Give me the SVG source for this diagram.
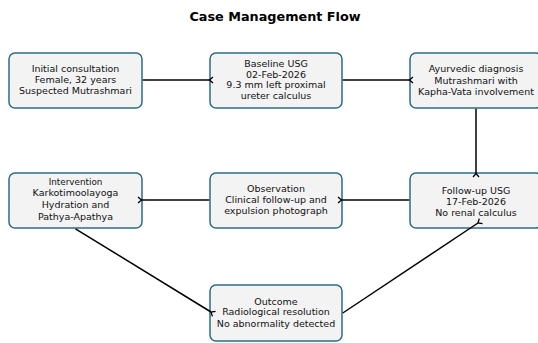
<svg xmlns="http://www.w3.org/2000/svg" width="538" height="343" viewBox="0 0 538 343">
<style>
.box{fill:#f3f3f3;stroke:#2b6e84;stroke-width:1.5}
.t{font-family:"DejaVu Sans",sans-serif;font-size:9.5px;fill:#111;text-anchor:middle}
.title{font-family:"DejaVu Sans",sans-serif;font-size:12.8px;font-weight:bold;fill:#000;text-anchor:middle}
.e{stroke:#000;stroke-width:1.5;fill:none}
</style>
<defs>
<marker id="h" viewBox="-1 -5 7 10" refX="0" refY="0" markerWidth="7" markerHeight="10" markerUnits="userSpaceOnUse" orient="auto" overflow="visible">
<path d="M3.5,-3 L0,0 L3.5,3" fill="none" stroke="#000" stroke-width="1.3"/>
</marker>
</defs>
<rect width="538" height="343" fill="#fff"/>
<text class="title" x="275" y="21">Case Management Flow</text>
<g id="initial">
<rect class="box" x="9" y="53" width="133" height="55" rx="6"/>
<text class="t" x="75.5" y="72">Initial consultation</text>
<text class="t" x="75.5" y="83">Female, 32 years</text>
<text class="t" x="75.5" y="94">Suspected Mutrashmari</text>
</g>
<g id="baseline">
<rect class="box" x="210" y="53" width="132" height="55" rx="6"/>
<text class="t" x="276" y="67">Baseline USG</text>
<text class="t" x="276" y="77.5">02-Feb-2026</text>
<text class="t" x="276" y="88">9.3 mm left proximal</text>
<text class="t" x="276" y="99">ureter calculus</text>
</g>
<g id="ayurvedic">
<rect class="box" x="410" y="53" width="132" height="55" rx="6"/>
<text class="t" x="476" y="72">Ayurvedic diagnosis</text>
<text class="t" x="476" y="83.5">Mutrashmari with</text>
<text class="t" x="476" y="94.5">Kapha-Vata involvement</text>
</g>
<g id="intervention">
<rect class="box" x="9" y="173" width="133" height="55" rx="6"/>
<text class="t" x="75.5" y="185" style="font-size:8.8px">Intervention</text>
<text class="t" x="75.5" y="195.5">Karkotimoolayoga</text>
<text class="t" x="75.5" y="208">Hydration and</text>
<text class="t" x="75.5" y="220">Pathya-Apathya</text>
</g>
<g id="observation">
<rect class="box" x="210" y="173" width="132" height="55" rx="6"/>
<text class="t" x="276" y="191.5">Observation</text>
<text class="t" x="276" y="202.5">Clinical follow-up and</text>
<text class="t" x="276" y="214">expulsion photograph</text>
</g>
<g id="followup">
<rect class="box" x="410" y="173" width="132" height="55" rx="6"/>
<text class="t" x="476" y="193.5">Follow-up USG</text>
<text class="t" x="476" y="204.5">17-Feb-2026</text>
<text class="t" x="476" y="215.5">No renal calculus</text>
</g>
<g id="outcome">
<rect class="box" x="210" y="285" width="132" height="56" rx="6"/>
<text class="t" x="276" y="305">Outcome</text>
<text class="t" x="276" y="315">Radiological resolution</text>
<text class="t" x="276" y="326.5">No abnormality detected</text>
</g>
<g id="edges">
<line class="e" x1="142.8" y1="80" x2="209.5" y2="80" marker-end="url(#h)"/>
<line class="e" x1="342.8" y1="80" x2="409.5" y2="80" marker-end="url(#h)"/>
<line class="e" x1="476" y1="108.8" x2="476" y2="173.5" marker-end="url(#h)"/>
<line class="e" x1="409.2" y1="200" x2="341.5" y2="200" marker-end="url(#h)"/>
<line class="e" x1="209.2" y1="200" x2="141.5" y2="200" marker-end="url(#h)"/>
<line class="e" x1="75.5" y1="228.8" x2="211" y2="312" marker-end="url(#h)"/>
<line class="e" x1="342.8" y1="313" x2="478" y2="223" marker-end="url(#h)"/>
</g>
</svg>
